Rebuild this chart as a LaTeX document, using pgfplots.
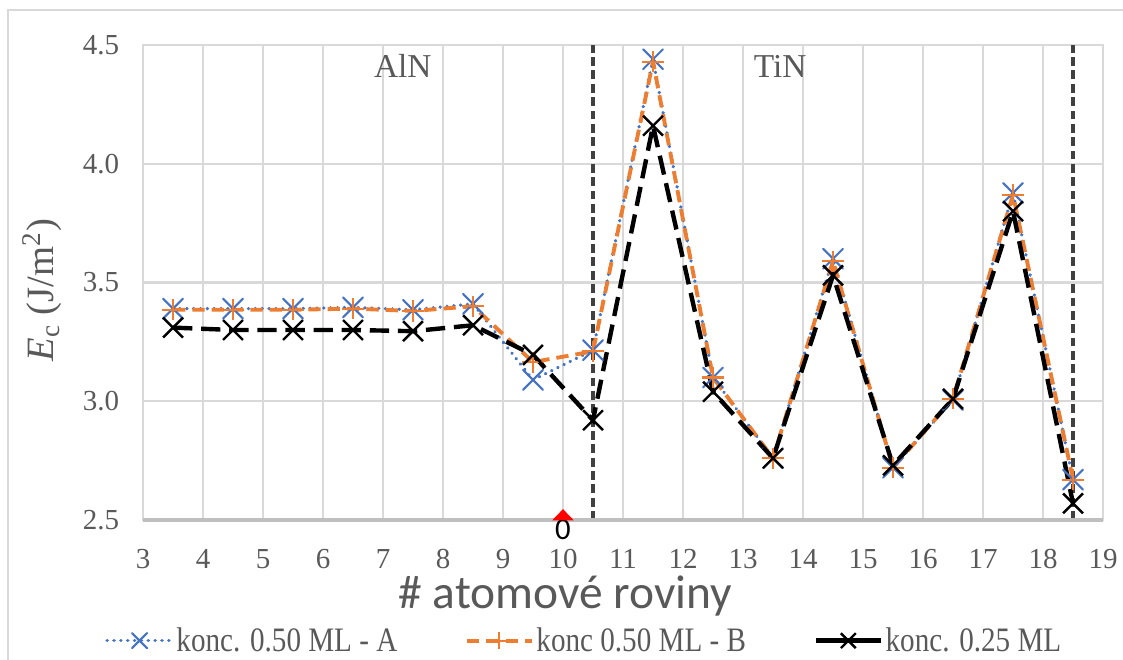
\documentclass[border=0pt]{standalone}
\usepackage{fontspec}
\setmainfont{Liberation Serif}
\newfontfamily\calfont{Carlito}
\newfontfamily\legfont{Liberation Serif}[FakeStretch=0.85]
\usepackage{pgfplots}
\pgfplotsset{compat=1.18}
\definecolor{gridc}{HTML}{D9D9D9}
\definecolor{axc}{HTML}{BFBFBF}
\definecolor{txt}{HTML}{595959}
\definecolor{blueA}{HTML}{4472C4}
\definecolor{orangeB}{HTML}{ED7D31}
\definecolor{vline}{HTML}{404040}
\begin{document}
\begin{tikzpicture}
\useasboundingbox (0,0) rectangle (22.46cm,13.2cm);
\draw[gridc, line width=1.2pt] (0.16cm,0) -- (0.16cm,13.0cm) -- (22.46cm,13.0cm);
\begin{axis}[
  at={(2.86cm,2.8cm)}, anchor=south west,
  scale only axis, width=19.2cm, height=9.5cm,
  xmin=3, xmax=19, ymin=2.5, ymax=4.5,
  xtick={3,4,...,19}, ytick={2.5,3.0,3.5,4.0,4.5},
  grid=major, major grid style={gridc, line width=1.2pt},
  axis line style={gridc, line width=1.2pt},
  tick style={draw=none},
  clip=false,
  /pgf/number format/assume math mode=true,
  yticklabel style={/pgf/number format/.cd, fixed, fixed zerofill, precision=1, /tikz/.cd,
     font=\fontsize{16.5}{16.5}\selectfont, color=txt, xshift=-10pt},
  xticklabel style={font=\fontsize{16.5}{16.5}\selectfont, color=txt, inner sep=0pt, yshift=-16.5pt},
  xlabel={\# atomové roviny},
  xlabel style={font=\calfont\fontsize{27}{27}\selectfont, color=txt, inner sep=0pt, at={(axis description cs:0.44,-0.161)}, anchor=center},
  ylabel={\textit{E}\textsubscript{c} (J/m\textsuperscript{2})},
  ylabel style={font=\fontsize{22}{22}\selectfont, color=txt, at={(axis description cs:-0.105,0.484)}, anchor=center},
  legend image code/.code={\draw[mark repeat=2,mark phase=2] plot coordinates {(0cm,0cm) (0.65cm,0cm) (1.3cm,0cm)};},
  legend style={at={(axis description cs:0.46,-0.254)}, anchor=center, draw=none, fill=none,
     inner sep=0pt, nodes={inner sep=1.5pt},
     font=\legfont\fontsize{19.5}{19.5}\selectfont, text=txt, legend columns=3,
     /tikz/every even column/.append style={column sep=1.3cm}},
]
\addplot[forget plot, vline, line width=2.2pt, dash pattern=on 5pt off 2.6pt] coordinates {(10.5,2.5) (10.5,4.5)};
\addplot[forget plot, vline, line width=2.2pt, dash pattern=on 5pt off 2.6pt] coordinates {(18.5,2.5) (18.5,4.5)};
\draw[axc, line width=2pt] (axis description cs:0,0) -- (axis description cs:1,0);

\addplot[blueA, line width=2pt, dash pattern=on 0.1pt off 3.8pt, line cap=round,
  mark=x, mark size=8pt, mark options={solid, line width=1.2pt},
  legend image post style={mark size=6pt}] coordinates {
(3.5,3.39) (4.5,3.39) (5.5,3.39) (6.5,3.395) (7.5,3.385) (8.5,3.41) (9.5,3.09) (10.5,3.215)
(11.5,4.44) (12.5,3.10) (13.5,2.76) (14.5,3.60) (15.5,2.72) (16.5,3.005) (17.5,3.877) (18.5,2.67)};
\addlegendentry{konc. 0.50 ML - A}
\addplot[orangeB, line width=2.2pt, dash pattern=on 7pt off 4pt,
  mark=+, mark size=6pt, mark options={solid, line width=1.2pt},
  legend image post style={mark size=5pt}] coordinates {
(3.5,3.385) (4.5,3.385) (5.5,3.385) (6.5,3.39) (7.5,3.38) (8.5,3.40) (9.5,3.165) (10.5,3.21)
(11.5,4.43) (12.5,3.10) (13.5,2.76) (14.5,3.59) (15.5,2.72) (16.5,3.01) (17.5,3.87) (18.5,2.67)};
\addlegendentry{konc 0.50 ML - B}
\addplot[black, line width=2.5pt, dash pattern=on 11pt off 5pt,
  mark=x, mark size=8pt, mark options={solid, line width=1.4pt},
  legend image post style={solid, mark size=6pt}] coordinates {
(3.5,3.31) (4.5,3.30) (5.5,3.30) (6.5,3.30) (7.5,3.295) (8.5,3.32) (9.5,3.195) (10.5,2.92)
(11.5,4.16) (12.5,3.04) (13.5,2.76) (14.5,3.53) (15.5,2.73) (16.5,3.01) (17.5,3.80) (18.5,2.57)};
\addlegendentry{konc. 0.25 ML}

\addplot[forget plot, only marks, mark=triangle*, red, mark size=6.5pt,
  mark options={yshift=2pt, yscale=0.6}] coordinates {(10,2.5)};
\node[font=\calfont\fontsize{17.5}{17.5}\selectfont, inner sep=0pt, anchor=north, yshift=0.01cm] at (axis cs:10,2.5) {0};
\node[font=\fontsize{19}{19}\selectfont, text=txt] at (axis cs:7.33,4.41) {AlN};
\node[font=\fontsize{19}{19}\selectfont, text=txt] at (axis cs:13.62,4.41) {TiN};
\end{axis}
\end{tikzpicture}
\end{document}
